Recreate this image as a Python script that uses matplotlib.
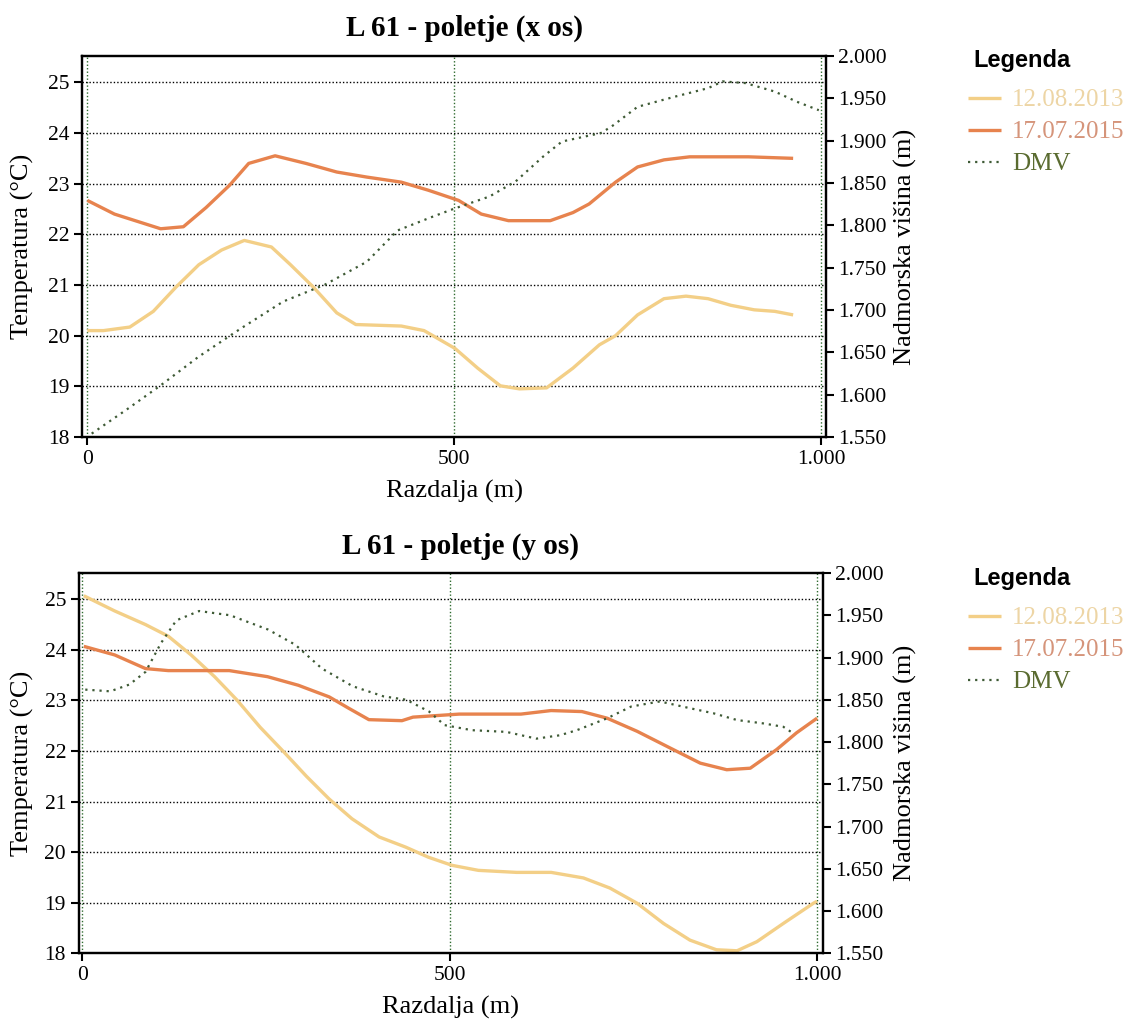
import numpy as np
import matplotlib
matplotlib.use("Agg")
from matplotlib import pyplot as plt
from matplotlib.ticker import FixedLocator, FuncFormatter

plt.rcParams['font.family'] = ['Liberation Serif', 'DejaVu Serif']

# ---- podatki: L 61 - poletje (x os) ----
x_top_2013 = [0, 22, 58, 90, 121, 152, 183, 214, 251, 277, 308, 340, 366, 428, 459, 501,
              532, 563, 589, 626, 662, 698, 720, 750, 786, 816, 846, 877, 909, 937, 962]
t_top_2013 = [20.1, 20.1, 20.17, 20.48, 20.96, 21.4, 21.69, 21.88, 21.75, 21.4, 20.96, 20.45,
              20.22, 20.19, 20.1, 19.75, 19.36, 19.01, 18.95, 18.97, 19.36, 19.82, 20.0, 20.41,
              20.73, 20.78, 20.73, 20.6, 20.51, 20.48, 20.41]
x_top_2015 = [0, 37, 100, 131, 162, 194, 220, 256, 298, 340, 381, 428, 465, 506, 537, 574,
              631, 662, 684, 720, 750, 786, 821, 901, 962]
t_top_2015 = [22.67, 22.4, 22.11, 22.15, 22.53, 22.97, 23.4, 23.55, 23.4, 23.23, 23.13, 23.03,
              22.87, 22.67, 22.4, 22.27, 22.27, 22.43, 22.6, 23.03, 23.33, 23.47, 23.53, 23.53, 23.5]
x_top_dmv = [6, 53, 100, 152, 209, 267, 324, 381, 423, 470, 501, 548, 584, 621, 647, 700,
             715, 750, 801, 846, 866, 897, 937, 967, 997]
h_top_dmv = [1.554, 1.582, 1.611, 1.645, 1.678, 1.710, 1.730, 1.757, 1.794, 1.810, 1.820, 1.834,
             1.852, 1.881, 1.899, 1.909, 1.917, 1.940, 1.952, 1.962, 1.970, 1.968, 1.958, 1.946, 1.936]

# ---- podatki: L 61 - poletje (y os) ----
x_bot_2013 = [2, 44, 86, 117, 148, 180, 211, 242, 273, 305, 336, 367, 404, 440, 471, 503, 539,
              591, 638, 682, 718, 755, 791, 827, 863, 891, 918, 954, 995, 1000]
t_bot_2013 = [25.07, 24.77, 24.5, 24.27, 23.9, 23.47, 23.0, 22.47, 22.0, 21.5, 21.05, 20.66,
              20.3, 20.1, 19.9, 19.74, 19.64, 19.6, 19.6, 19.49, 19.29, 18.99, 18.59, 18.26,
              18.07, 18.05, 18.23, 18.59, 18.99, 19.03]
x_bot_2015 = [2, 44, 86, 117, 200, 252, 294, 336, 362, 390, 435, 450, 513, 597, 638, 680, 714,
              755, 804, 841, 877, 909, 945, 972, 1000]
t_bot_2015 = [24.07, 23.9, 23.63, 23.59, 23.59, 23.47, 23.3, 23.07, 22.85, 22.62, 22.6, 22.67,
              22.73, 22.73, 22.8, 22.78, 22.65, 22.39, 22.03, 21.76, 21.63, 21.66, 22.03, 22.36, 22.65]
x_bot_dmv = [4, 38, 64, 86, 107, 128, 159, 201, 253, 290, 326, 368, 410, 441, 472, 493, 530,
             577, 618, 650, 673, 714, 747, 786, 827, 859, 891, 927, 954, 968]
h_bot_dmv = [1.862, 1.860, 1.868, 1.883, 1.917, 1.944, 1.955, 1.950, 1.933, 1.915, 1.887, 1.866,
             1.854, 1.850, 1.836, 1.820, 1.814, 1.812, 1.804, 1.808, 1.814, 1.828, 1.842, 1.848,
             1.840, 1.834, 1.826, 1.822, 1.818, 1.810]

labels = ['12.08.2013', '17.07.2015', 'DMV']
temp_ticks = [18, 19, 20, 21, 22, 23, 24, 25]
elev_ticks = [1.55, 1.60, 1.65, 1.70, 1.75, 1.80, 1.85, 1.90, 1.95, 2.00]
dist_ticks = [0, 500, 1000]

c13 = '#F3CF87'
c15 = '#E7834E'
cdmv = '#3E5A35'
txt_colors = ['#EDD5A5', '#D5947A', '#5A6B30']

W, H = 1134, 1023
fig = plt.figure(figsize=(W / 100, H / 100), dpi=100)


def fx(px):
    return px / W


def fy(py):
    return 1 - py / H


def make_chart(box, xlim, title, title_y, xs, ys, xd, hd, leg_y):
    left, top, right, bottom = box
    ax = fig.add_axes([fx(left), fy(bottom), fx(right - left), (bottom - top) / H])
    ax.set_xlim(*xlim)
    ax.set_ylim(18, 25.52)
    ax.set_axisbelow(True)
    l1, = ax.plot(xs[0], ys[0], color=c13, lw=2.4, solid_capstyle='butt')
    l2, = ax.plot(xs[1], ys[1], color=c15, lw=2.4, solid_capstyle='butt')
    ax.yaxis.set_major_locator(FixedLocator(temp_ticks))
    ax.xaxis.set_major_locator(FixedLocator(dist_ticks))
    ax.xaxis.set_major_formatter(FuncFormatter(lambda v, p: '1.000' if v == 1000 else '%d' % v))
    ax.grid(axis='y', color='black', linestyle=(0, (1, 1.5)), lw=1.0)
    ax.grid(axis='x', color='#2F6B2F', linestyle=(0, (1, 1.5)), lw=1.0)
    ax.tick_params(labelsize=15.5, length=6, width=1.5, direction='out', pad=3)
    for s in ax.spines.values():
        s.set_linewidth(1.6)

    ax2 = ax.twinx()
    ax2.set_ylim(1.55, 2.0)
    l3, = ax2.plot(xd, hd, color=cdmv, lw=1.6, linestyle=(0, (1, 2.2)))
    ax2.yaxis.set_major_locator(FixedLocator(elev_ticks))
    ax2.yaxis.set_major_formatter(FuncFormatter(lambda v, p: '%.3f' % v))
    ax2.tick_params(labelsize=15.5, length=6, width=1.5, direction='out', pad=3)
    for s in ax2.spines.values():
        s.set_linewidth(1.6)

    mid = (left + right) / 2
    fig.text(fx(mid + 10), fy(title_y), title, ha='center', va='center',
             fontsize=21, fontweight='bold')
    fig.text(fx(mid), fy(bottom + 54), 'Razdalja (m)', ha='center', va='center', fontsize=19)
    fig.text(fx(22), fy((top + bottom) / 2), 'Temperatura (°C)', ha='center', va='center',
             rotation=90, fontsize=19)
    fig.text(fx(905), fy((top + bottom) / 2), 'Nadmorska višina (m)', ha='center',
             va='center', rotation=90, fontsize=19)

    # legenda
    fig.text(fx(973), fy(leg_y), 'Legenda', ha='left', va='center',
             family='Liberation Sans', fontweight='bold', fontsize=17)
    leg = fig.legend([l1, l2, l3], labels, loc='upper left',
                     bbox_to_anchor=(fx(968), fy(leg_y + 29)), frameon=False,
                     prop={'size': 18}, handlelength=1.3, handletextpad=0.45,
                     labelspacing=0.38, borderaxespad=0, borderpad=0)
    for t, c in zip(leg.get_texts(), txt_colors):
        t.set_color(c)
    return ax


make_chart((82, 56, 826, 437), (-7.2, 1006.8), 'L 61 - poletje (x os)', 28,
           [x_top_2013, x_top_2015], [t_top_2013, t_top_2015], x_top_dmv, h_top_dmv, 60)
make_chart((78.5, 573, 823, 953.3), (-5.2, 1008), 'L 61 - poletje (y os)', 546,
           [x_bot_2013, x_bot_2015], [t_bot_2013, t_bot_2015], x_bot_dmv, h_bot_dmv, 578)

fig.savefig('out.png', dpi=100, facecolor='white')
